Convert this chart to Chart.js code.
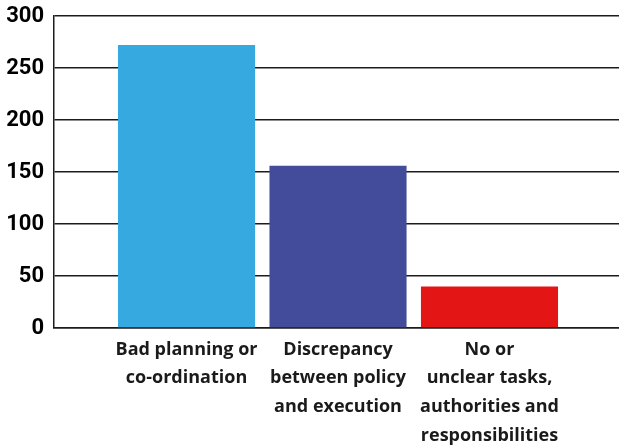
<!DOCTYPE html>
<html>
<head>
<meta charset="utf-8">
<script src="https://cdn.jsdelivr.net/npm/chart.js@4.4.1/dist/chart.umd.min.js"></script>
<style>
    html, body { margin: 0; padding: 0; background: #fff; }
    #wrap { width: 619px; height: 448px; position: relative; }
</style>
</head>
<body>
<div id="wrap"><canvas id="causesChart"></canvas></div>
<script>
// Causes of failure, counts per category
const categories = [
    ['Bad planning or', 'co-ordination'],
    ['Discrepancy', 'between policy', 'and execution'],
    ['No or', 'unclear tasks,', 'authorities and', 'responsibilities']
];
const counts = [272, 156, 40];
const barColors = ['#36a9e1', '#434b9b', '#e31515'];
const yTicks = [0, 50, 100, 150, 200, 250, 300];

const lineColor = '#1c1c1c';

new Chart(document.getElementById('causesChart'), {
    type: 'bar',
    data: {
        datasets: [{
            data: counts.map((v, i) => ({ x: i + 1, y: v })),
            backgroundColor: barColors,
            borderWidth: 0,
            barPercentage: 0.905,
            categoryPercentage: 1
        }]
    },
    options: {
        responsive: true,
        maintainAspectRatio: false,
        animation: false,
        layout: { padding: { top: 16, left: 0, right: 0, bottom: 0 } },
        plugins: {
            legend: { display: false },
            tooltip: { enabled: false }
        },
        scales: {
            x: {
                type: 'linear',
                offset: false,
                min: 0.125,
                max: 3.855,
                grid: { display: false, drawTicks: false, offset: false },
                border: { display: true, color: lineColor, width: 1.5 },
                afterBuildTicks: scale => {
                    scale.ticks = categories.map((c, i) => ({ value: i + 1 }));
                },
                afterFit: scale => { scale.height = 120; },
                ticks: {
                    autoSkip: false,
                    maxRotation: 0,
                    padding: 7,
                    color: '#1a1a1a',
                    font: { family: 'Open Sans', size: 18, weight: 'bold', lineHeight: 1.6 },
                    callback: value => categories[value - 1] || ''
                }
            },
            y: {
                min: 0,
                max: 300,
                grid: { color: lineColor, lineWidth: 1.5, drawTicks: false },
                border: { display: true, color: lineColor, width: 1.5 },
                afterBuildTicks: scale => {
                    scale.ticks = yTicks.map(v => ({ value: v }));
                },
                afterFit: scale => { scale.width = 54; },
                ticks: {
                    padding: 10,
                    color: '#000',
                    font: { family: 'Roboto', size: 22, weight: 'bold', lineHeight: 0.5 }
                }
            }
        }
    }
});
</script>
</body>
</html>
